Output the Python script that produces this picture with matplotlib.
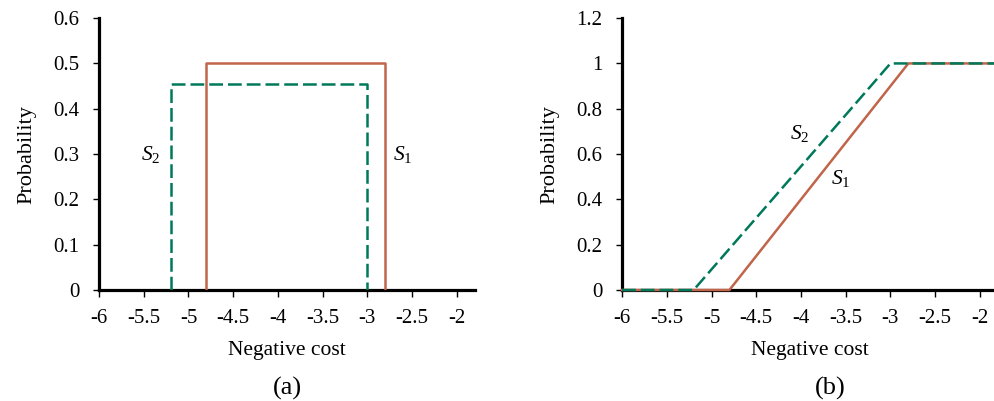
import matplotlib
matplotlib.use("Agg")
import matplotlib.pyplot as plt

plt.rcParams['font.family'] = ['Liberation Serif', 'DejaVu Serif']
plt.rcParams['axes.unicode_minus'] = False
plt.rcParams['mathtext.fontset'] = 'custom'
plt.rcParams['mathtext.rm'] = 'Liberation Serif'
plt.rcParams['mathtext.it'] = 'Liberation Serif:italic'

# (a) probability density of the two uniform distributions
s1_pdf_x = [-4.8, -4.8, -2.8, -2.8]
s1_pdf_y = [0, 0.5, 0.5, 0]
s2_pdf_x = [-5.2, -5.2, -3.0, -3.0]
s2_pdf_y = [0, 0.4545, 0.4545, 0]

# (b) cumulative distribution
s1_cdf_x = [-6, -4.8, -2.8, -1.5]
s1_cdf_y = [0, 0, 1, 1]
s2_cdf_x = [-6, -5.2, -3.0, -1.5]
s2_cdf_y = [0, 0, 1, 1]

x_ticks = [-6, -5.5, -5, -4.5, -4, -3.5, -3, -2.5, -2]
x_ticklabels = ['-6', '-5.5', '-5', '-4.5', '-4', '-3.5', '-3', '-2.5', '-2']
pdf_yticks = [0, 0.1, 0.2, 0.3, 0.4, 0.5, 0.6]
pdf_yticklabels = ['0', '0.1', '0.2', '0.3', '0.4', '0.5', '0.6']
cdf_yticks = [0, 0.2, 0.4, 0.6, 0.8, 1.0, 1.2]
cdf_yticklabels = ['0', '0.2', '0.4', '0.6', '0.8', '1', '1.2']

c_s1 = '#C0654A'
c_s2 = '#00795A'
fs_tick = 15
fs_label = 15.5
dash = (0, (5.5, 2))

fig = plt.figure(figsize=(9.94, 4.01), dpi=100)
ax1 = fig.add_axes([0.0996, 0.2768, 0.378, 0.678])
ax2 = fig.add_axes([0.6258, 0.2768, 0.378, 0.678])


def style(ax, yticks, ylabels, ymax):
    ax.set_xlim(-6, -1.8)
    ax.set_ylim(0, ymax)
    for s in ['top', 'right']:
        ax.spines[s].set_visible(False)
    for s in ['left', 'bottom']:
        ax.spines[s].set_linewidth(2.3)
        ax.spines[s].set_zorder(1)
    ax.set_xticks(x_ticks)
    ax.set_xticklabels(x_ticklabels, fontsize=fs_tick)
    ax.set_yticks(yticks)
    ax.set_yticklabels(ylabels, fontsize=fs_tick)
    ax.tick_params(axis='x', direction='out', length=5, width=1, pad=9)
    ax.tick_params(axis='y', direction='out', length=4, width=1, pad=10)
    ax.set_xlabel('Negative cost', fontsize=fs_label, labelpad=9)
    ax.set_ylabel('Probability', fontsize=fs_label + 0.5, labelpad=12)


style(ax1, pdf_yticks, pdf_yticklabels, 0.6)
ax1.plot(s1_pdf_x, s1_pdf_y, color=c_s1, lw=1.8, zorder=3)
ax1.plot(s2_pdf_x, s2_pdf_y, color=c_s2, lw=1.8, ls=dash, zorder=3)
ax1.text(-5.42, 0.3, r'$S_2$', fontsize=fs_label, ha='center', va='center')
ax1.text(-2.6, 0.3, r'$S_1$', fontsize=fs_label, ha='center', va='center')

style(ax2, cdf_yticks, cdf_yticklabels, 1.2)
ax2.plot(s1_cdf_x, s1_cdf_y, color=c_s1, lw=1.8, zorder=3, clip_on=False)
ax2.plot(s2_cdf_x, s2_cdf_y, color=c_s2, lw=1.8, ls=dash, zorder=3, clip_on=False)
ax2.text(-4.01, 0.69, r'$S_2$', fontsize=fs_label, ha='center', va='center')
ax2.text(-3.56, 0.49, r'$S_1$', fontsize=fs_label, ha='center', va='center')

fig.text(287 / 994, 1 - 388 / 401, '(a)', fontsize=19, ha='center', va='center')
fig.text(830 / 994, 1 - 388 / 401, '(b)', fontsize=19, ha='center', va='center')

fig.savefig('out.png', dpi=100)
